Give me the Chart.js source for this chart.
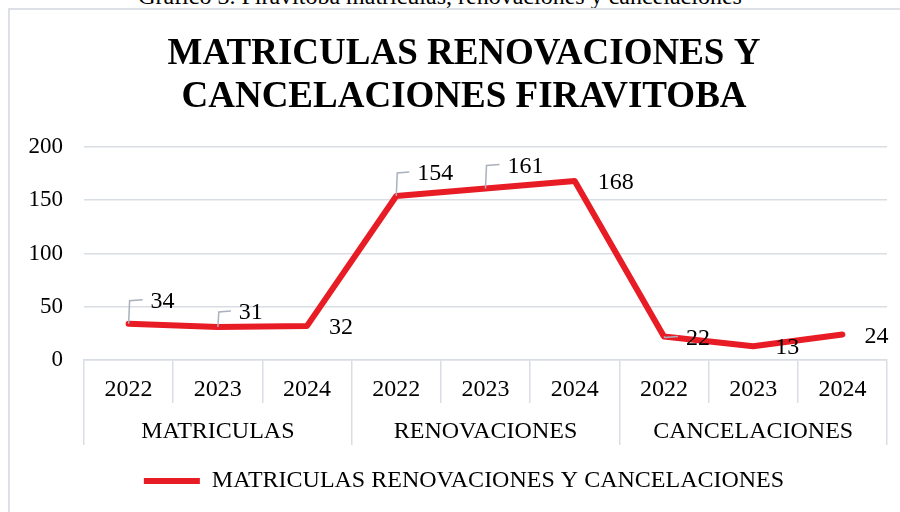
<!DOCTYPE html>
<html>
<head>
<meta charset="utf-8">
<script src="https://cdn.jsdelivr.net/npm/chart.js@4.4.1/dist/chart.umd.min.js"></script>
<style>
  html, body { margin:0; padding:0; background:#fff; overflow:hidden; }
  body { width:900px; height:512px; position:relative; }
  #caption {
    position:absolute; left:0; top:-16px; width:880px; text-align:center;
    font-family:'Liberation Serif', serif; font-size:24px; line-height:24px; color:#000;
  }
  #marco {
    position:absolute; left:8px; top:8px; width:960px; height:600px;
    border-left:2px solid #dde1e7; border-top:2px solid #dde1e7;
  }
  #grafico { position:absolute; left:0; top:0; }
</style>
</head>
<body>
<div id="caption">Gráfico 3. Firavitoba matriculas, renovaciones y cancelaciones</div>
<div id="marco"></div>
<canvas id="grafico" width="908" height="512"></canvas>
<script>
// Datos
const anios = ['2022','2023','2024','2022','2023','2024','2022','2023','2024'];
const grupos = ['MATRICULAS','RENOVACIONES','CANCELACIONES'];
const valores = [34, 31, 32, 154, 161, 168, 22, 13, 24];
const ticksY = [0, 50, 100, 150, 200];
const serie = 'MATRICULAS RENOVACIONES Y CANCELACIONES';

// posición de etiquetas (centro del texto respecto al punto) y líneas guía
const desplazEtiq = [[34,-22],[33,-14],[34,2],[39,-22],[40,-22],[41,2],[34,2],[34,2],[34,2]];
const conGuia = [true, true, false, true, true, false, true, false, false];

const gris = '#d9dde4';
const rojo = '#e81c24';
Chart.defaults.font.family = "'Liberation Serif', serif";
Chart.defaults.color = '#000';

const etiquetasPlugin = {
  id: 'etiquetas',
  afterDatasetsDraw(chart){
    const ctx = chart.ctx;
    const meta = chart.getDatasetMeta(0);
    ctx.save();
    ctx.font = "24px 'Liberation Serif', serif";
    ctx.textAlign = 'center';
    ctx.textBaseline = 'middle';
    meta.data.forEach((p, i)=>{
      const txt = String(chart.data.datasets[0].data[i]);
      const cx = p.x + desplazEtiq[i][0];
      const cy = p.y + desplazEtiq[i][1];
      if(conGuia[i]){
        const w = ctx.measureText(txt).width;
        const fin = cx - w/2 - 8;
        ctx.strokeStyle = '#a9b1bc';
        ctx.lineWidth = 1.5;
        ctx.beginPath();
        ctx.moveTo(p.x, p.y);
        ctx.lineTo(p.x + 1, cy - 1);
        ctx.lineTo(fin, cy - 2);
        ctx.stroke();
      }
      ctx.fillStyle = '#000';
      ctx.fillText(txt, cx, cy);
    });
    ctx.restore();
  }
};

new Chart(document.getElementById('grafico').getContext('2d'), {
  type:'line',
  data:{
    labels: anios,
    datasets:[{
      label: serie,
      data: valores,
      xAxisID:'x',
      yAxisID:'y',
      borderColor: rojo,
      backgroundColor: rojo,
      borderWidth: 6,
      borderJoinStyle:'round',
      borderCapStyle:'round',
      pointRadius: 0,
      tension: 0,
      fill: false
    }]
  },
  options:{
    responsive:false,
    animation:false,
    layout:{ padding:{ left:21, right:1, top:10, bottom:9 } },
    plugins:{
      title:{
        display:true,
        text:['MATRICULAS RENOVACIONES Y','CANCELACIONES FIRAVITOBA'],
        color:'#000',
        font:{ size:37, weight:'bold', lineHeight:1.162 },
        padding:{ top:23, bottom:28 }
      },
      legend:{
        position:'bottom',
        labels:{
          usePointStyle:true,
          pointStyle:'line',
          pointStyleWidth:56,
          color:'#000',
          font:{ size:24 },
          padding:10
        }
      },
      tooltip:{ enabled:false }
    },
    scales:{
      x:{
        type:'category',
        position:'bottom',
        offset:true,
        weight:0,
        grid:{ drawOnChartArea:false, tickLength:43, color:gris, lineWidth:1.5, offset:true },
        border:{ color:gris, width:1.5 },
        ticks:{ font:{ size:24 }, color:'#000', padding:-28, autoSkip:false, maxRotation:0 },
        afterFit(s){ s.height = 43; }
      },
      grp:{
        type:'category',
        labels: grupos,
        position:'bottom',
        offset:true,
        weight:1,
        grid:{ drawOnChartArea:false, tickLength:42, color:gris, lineWidth:1.5, offset:true },
        border:{ display:false },
        ticks:{ font:{ size:24 }, color:'#000', padding:-28, autoSkip:false, maxRotation:0 },
        afterFit(s){ s.height = 56; }
      },
      y:{
        min:0,
        max:200,
        afterBuildTicks(s){ s.ticks = ticksY.map(v=>({value:v})); },
        grid:{ color:gris, lineWidth:1.5, drawTicks:false },
        border:{ display:false },
        ticks:{ font:{ size:23 }, color:'#000', padding:21 },
        afterFit(s){ s.width = 63; }
      },
      // eje vacío a la derecha: solo reserva espacio para centrar título y leyenda
      yDer:{
        type:'linear',
        position:'right',
        grid:{ display:false },
        border:{ display:false },
        ticks:{ display:false },
        afterFit(s){ s.width = 20; }
      }
    }
  },
  plugins:[etiquetasPlugin]
});
</script>
</body>
</html>
